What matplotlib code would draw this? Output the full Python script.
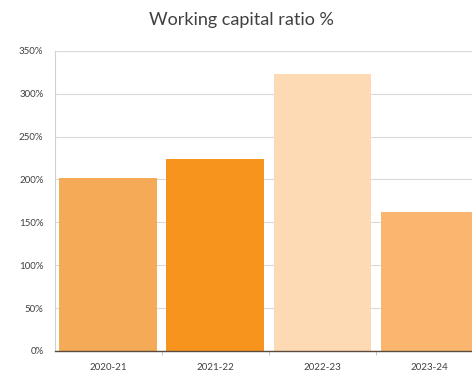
import matplotlib
matplotlib.use("Agg")
import matplotlib.pyplot as plt
from matplotlib.ticker import PercentFormatter, MultipleLocator, FixedLocator
import numpy as np

# Working capital ratio by financial year (%)
years = ["2020-21", "2021-22", "2022-23", "2023-24"]
ratio_pct = [202, 224, 323, 162]
bar_colors = ["#F5AA57", "#F7941E", "#FDDAB3", "#FAB56E"]

plt.rcParams["font.family"] = ["Lato", "DejaVu Sans"]

fig = plt.figure(figsize=(4.72, 3.76), dpi=100)
# axes extends slightly past the right edge of the canvas
ax = fig.add_axes([54.5 / 472, 25 / 376, 428.5 / 472, 300.3 / 376])

x = np.arange(len(years))
ax.bar(x, ratio_pct, width=0.91, color=bar_colors, zorder=2)

ax.set_xlim(-0.5, len(years) - 0.5)
ax.set_ylim(0, 350)
ax.yaxis.set_major_locator(MultipleLocator(50))
ax.yaxis.set_major_formatter(PercentFormatter(decimals=0))
ax.grid(axis="y", color="#d9d9d9", linewidth=0.8, zorder=0)
ax.set_axisbelow(True)

ax.set_xticks(x)
ax.set_xticklabels(years)
ax.xaxis.set_minor_locator(FixedLocator(x[:-1] + 0.5))
ax.tick_params(axis="x", which="major", length=0, pad=9, labelsize=7, labelcolor="#404040")
ax.tick_params(axis="x", which="minor", length=3, color="#bfbfbf", direction="out")
ax.tick_params(axis="y", length=0, pad=8, labelsize=7, labelcolor="#404040")

for side in ["top", "right"]:
    ax.spines[side].set_visible(False)
ax.spines["left"].set_color("#d0d0d0")
ax.spines["left"].set_linewidth(0.8)
ax.spines["bottom"].set_color("#5a4b3c")
ax.spines["bottom"].set_linewidth(1.0)
ax.spines["bottom"].set_zorder(3)

fig.text(241.5 / 472, 1 - 20 / 376, "Working capital ratio %", ha="center", va="center",
         fontsize=13, color="#404040")

fig.savefig("out.png", dpi=100)
